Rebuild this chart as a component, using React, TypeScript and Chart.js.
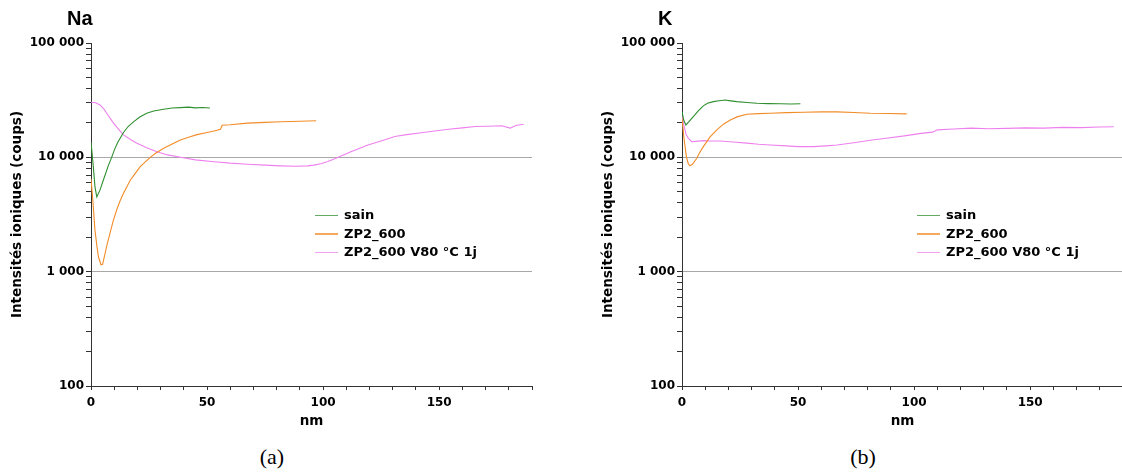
import React, { useEffect, useRef } from 'react';
import { Chart, registerables } from 'chart.js';
Chart.register(...registerables);

// ---- data ----
const seriesNames = ['sain', 'ZP2_600', 'ZP2_600 V80 °C 1j'];
const seriesColors = ['#2f8f2f', '#f28c28', '#ee80ee'];
const xLabelValues = [0, 50, 100, 150];
const xMin = 0;
const xMax = 190;
const xMinorStep = 10;
const yTickValues = [100, 1000, 10000, 100000];
const yTickLabels = ['100', '1 000', '10 000', '100 000'];

// Na panel
const naSainX = [0, 1.0, 1.7, 2.5, 3.9, 5.3, 7.5, 8.9, 10.2, 11.5, 12.8, 14, 16, 18.3, 21, 24, 27, 31.3, 35, 38.5, 42, 45, 48, 51.2];
const naSainY = [13700, 8300, 5550, 4500, 5190, 6300, 8500, 10000, 11800, 13500, 15000, 16500, 18600, 20400, 22500, 24300, 25400, 26300, 27000, 27200, 27500, 27100, 27300, 27000];
const naZpX = [0, 0.8, 1.7, 2.5, 3.2, 4.3, 5.0, 6.1, 7.0, 8.2, 9.5, 11.1, 12.5, 14, 16.9, 19, 21.2, 25.5, 28, 31.3, 35, 38.5, 42, 45.7, 50, 53, 55.8, 56.5, 60, 67.4, 75, 81.8, 90, 97];
const naZpY = [6500, 4200, 2320, 1700, 1350, 1150, 1160, 1450, 1750, 2170, 2750, 3480, 4150, 4850, 6300, 7200, 8300, 10000, 10900, 12000, 13100, 14200, 15000, 15800, 16500, 17000, 17600, 19100, 19300, 19900, 20200, 20500, 20700, 20900];
const naVX = [0, 2, 3.9, 5.5, 6.8, 8.2, 9.7, 12, 14, 17, 19.8, 24, 28.4, 33, 38.5, 45, 53, 60, 67.4, 75, 81.8, 88, 93.4, 96, 99, 102, 105, 108, 112, 119.3, 125, 130.9, 136, 142.4, 148, 154, 160, 165.5, 171, 177, 180.6, 183, 186.4];
const naVY = [30300, 30000, 28700, 26500, 24300, 22000, 19900, 17500, 15700, 14300, 13300, 12100, 11200, 10500, 10000, 9500, 9160, 8900, 8710, 8550, 8420, 8350, 8420, 8550, 8800, 9200, 9700, 10300, 11200, 12800, 13900, 15200, 15800, 16400, 17000, 17600, 18100, 18600, 18700, 18900, 18000, 19000, 19500];

// K panel
const kSainX = [0, 0.8, 1.7, 3, 4.9, 7, 9.2, 11, 13.5, 16, 18.6, 21, 23.6, 28, 32.3, 37, 42.4, 47, 51];
const kSainY = [25100, 21000, 19200, 20500, 22700, 25500, 28200, 29700, 30700, 31300, 31700, 31200, 30700, 30200, 29700, 29500, 29400, 29300, 29400];
const kZpX = [0, 0.8, 1.9, 2.7, 3.4, 4.5, 6.3, 7.5, 9.2, 12, 15, 18, 20.8, 24, 28, 33, 38, 45, 52.4, 60, 66.8, 74, 81.2, 89, 96.8];
const kZpY = [22000, 15000, 10100, 8800, 8420, 8700, 9770, 10900, 12400, 15000, 17400, 19600, 21200, 22700, 23800, 24100, 24300, 24600, 24800, 25000, 25000, 24700, 24300, 24200, 24000];
const kVX = [0, 0.8, 1.7, 2.7, 4.2, 6, 9.2, 12, 16.4, 22, 28, 33, 38, 45, 50, 56.8, 62, 66.8, 74, 81.2, 88, 95.8, 103, 108, 110, 117, 124.6, 132, 140, 148, 156, 164, 172, 180, 186];
const kVY = [23000, 19000, 16000, 14700, 13700, 13800, 14000, 13900, 13900, 13600, 13300, 13000, 12800, 12600, 12400, 12400, 12600, 12800, 13400, 14100, 14700, 15400, 16200, 16600, 17400, 17700, 18000, 17800, 17900, 18100, 18000, 18300, 18200, 18400, 18500];

// ---- chart ----
const tickFont = { family: 'DejaVu Sans', weight: 'bold' as const, size: 12 };
const titleFont = { family: 'DejaVu Sans', weight: 'bold' as const, size: 13.5 };

function isPow10(v: number) {
  const l = Math.log10(v);
  return Math.abs(l - Math.round(l)) < 1e-9;
}

function buildChart(canvas: HTMLCanvasElement, xs: number[][], ys: number[][]) {
  const xTicks: { value: number }[] = [];
  for (let v = xMin; v <= xMax; v += xMinorStep) xTicks.push({ value: v });
  const yTicks: { value: number }[] = [];
  for (let d = 100; d < 100000; d *= 10) for (let m = 1; m <= 9; m++) yTicks.push({ value: m * d });
  yTicks.push({ value: 100000 });

  return new Chart(canvas, {
    type: 'line',
    data: {
      datasets: xs.map((xv, i) => ({
        label: seriesNames[i],
        data: xv.map((x, j) => ({ x, y: ys[i][j] })),
        borderColor: seriesColors[i],
        backgroundColor: seriesColors[i],
        borderWidth: 1.1,
        pointRadius: 0,
        fill: false,
        tension: 0,
      })),
    },
    options: {
      responsive: false,
      animation: false,
      events: [],
      layout: { padding: { left: 0, top: 43, right: 13, bottom: 0 } },
      plugins: { legend: { display: false }, tooltip: { enabled: false }, title: { display: false } },
      scales: {
        x: {
          type: 'linear',
          min: xMin,
          max: xMax,
          afterFit: (s: any) => { s.height = 44; },
          afterBuildTicks: (s: any) => { s.ticks = xTicks.map(t => ({ ...t })); },
          ticks: {
            autoSkip: false,
            maxRotation: 0,
            padding: 6,
            color: '#000',
            font: tickFont,
            callback: (v: any) => (xLabelValues.includes(Number(v)) ? String(v) : ''),
          },
          grid: { drawOnChartArea: false, drawTicks: true, tickLength: 4, tickColor: '#333' },
          border: { color: '#333', width: 1 },
          title: { display: true, text: 'nm', color: '#000', font: titleFont, padding: { top: 0, bottom: 0 } },
        },
        y: {
          type: 'logarithmic',
          min: 100,
          max: 100000,
          afterFit: (s: any) => { s.width = 91; },
          afterBuildTicks: (s: any) => { s.ticks = yTicks.map(t => ({ ...t, major: isPow10(t.value) })); },
          ticks: {
            autoSkip: false,
            padding: 2,
            color: '#000',
            font: tickFont,
            callback: (v: any) => {
              const k = yTickValues.findIndex(t => Math.abs(t - Number(v)) < 1e-6);
              return k >= 0 ? yTickLabels[k] : '';
            },
          },
          grid: {
            drawTicks: true,
            tickLength: 5,
            tickColor: '#333',
            color: (ctx: any) => {
              const v = ctx.tick ? ctx.tick.value : 0;
              return Math.abs(v - 1000) < 1e-6 || Math.abs(v - 10000) < 1e-6 ? '#a8a8a8' : 'rgba(0,0,0,0)';
            },
          },
          border: { color: '#333', width: 1 },
          title: { display: true, text: 'Intensités ioniques (coups)', color: '#000', font: titleFont, padding: { top: 9, bottom: 0 } },
        },
      },
    } as any,
  });
}

function Panel(props: { left: number; xs: number[][]; ys: number[][]; title: string; caption: string; legendLeft: number }) {
  const ref = useRef<HTMLCanvasElement>(null);
  useEffect(() => {
    const c = buildChart(ref.current!, props.xs, props.ys);
    return () => c.destroy();
  }, []);
  return (
    <>
      <canvas ref={ref} width={545} height={430} style={{ position: 'absolute', left: props.left, top: 0, width: 545, height: 430 }} />
      <div style={{ position: 'absolute', left: props.left + 67, top: 8, font: 'bold 20px "Liberation Sans", Arial, sans-serif', lineHeight: '20px', color: '#000' }}>{props.title}</div>
      <div style={{ position: 'absolute', left: props.legendLeft, top: 206, font: 'bold 13px "DejaVu Sans", sans-serif', color: '#000' }}>
        {seriesNames.map((n, i) => (
          <div key={n} style={{ display: 'flex', alignItems: 'center', height: 18.5, lineHeight: '18.5px', whiteSpace: 'nowrap' }}>
            <div style={{ width: 23, height: 1.5, background: seriesColors[i], opacity: 0.75, marginRight: 6 }} />
            <span>{n}</span>
          </div>
        ))}
      </div>
      <div style={{ position: 'absolute', left: props.left + 232, width: 80, top: 444, textAlign: 'center', font: '22px "Liberation Serif", "Times New Roman", serif', lineHeight: '26px', color: '#000' }}>{props.caption}</div>
    </>
  );
}

export default function App() {
  return (
    <div style={{ position: 'absolute', left: 0, top: 0, width: 1122, height: 473, overflow: 'hidden', background: '#fff' }}>
      <Panel left={0} title="Na" caption="(a)" legendLeft={315}
        xs={[naSainX, naZpX, naVX]} ys={[naSainY, naZpY, naVY]} />
      <Panel left={591} title="K" caption="(b)" legendLeft={917}
        xs={[kSainX, kZpX, kVX]} ys={[kSainY, kZpY, kVY]} />
    </div>
  );
}
